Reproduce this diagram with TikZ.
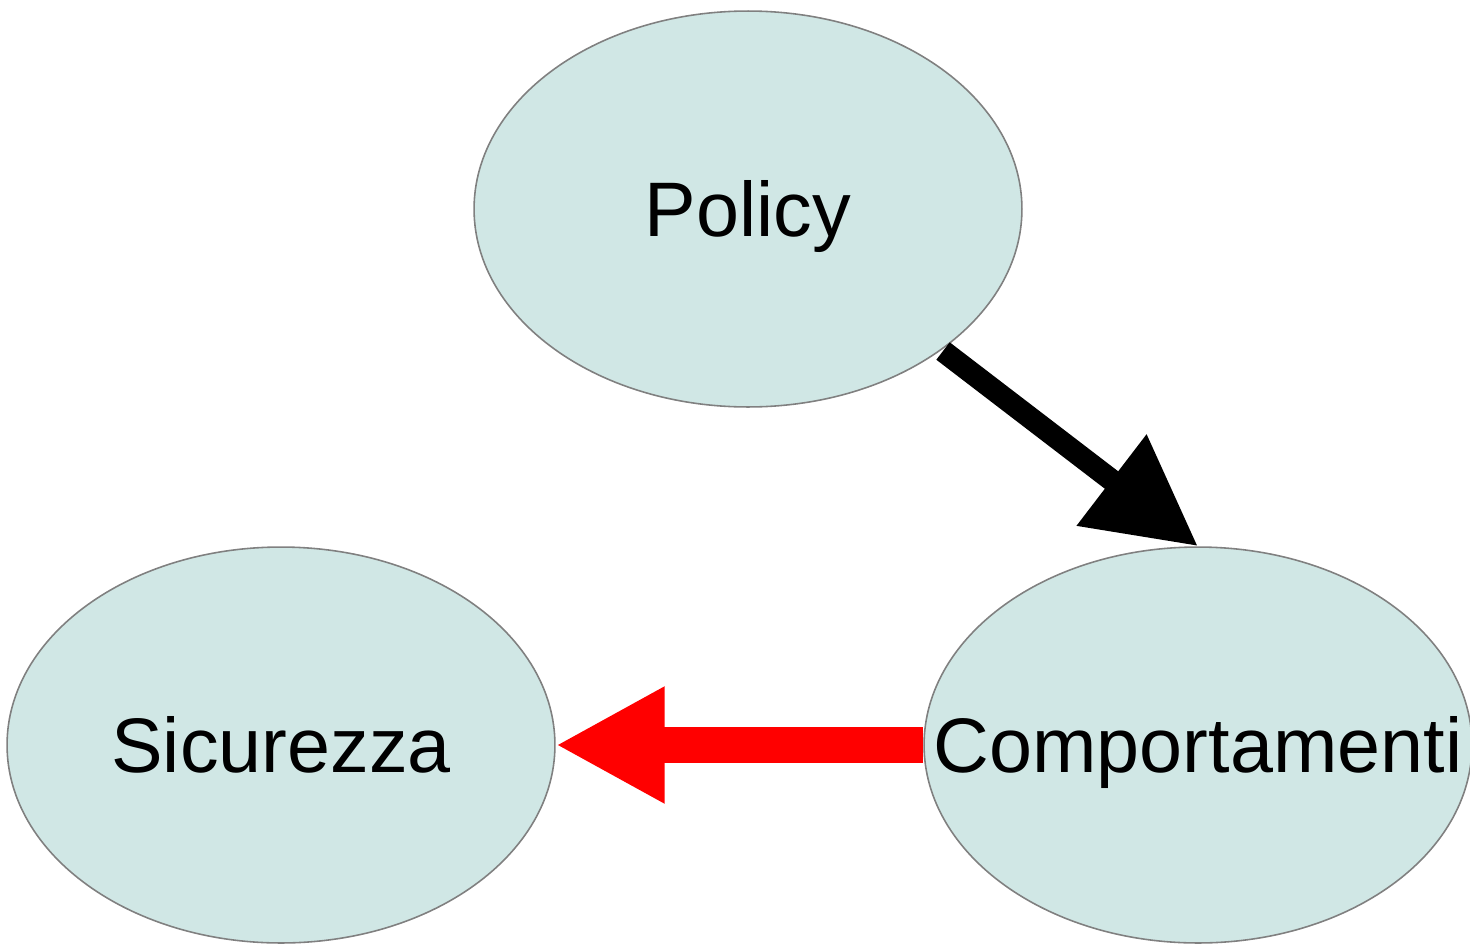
\documentclass[tikz,border=0pt]{standalone}
\usepackage{fontspec}
\setmainfont{Liberation Sans}
\usetikzlibrary{shapes.geometric,arrows.meta}
\definecolor{nodefill}{HTML}{D0E7E5}
\definecolor{nodeline}{HTML}{808080}
\definecolor{redarrow}{HTML}{FF0000}
\tikzset{
  bubble/.style={ellipse, draw=nodeline, fill=nodefill, line width=0.9pt,
    minimum width=10.96cm, minimum height=7.92cm, inner sep=0pt,
    font=\fontsize{44}{50}\selectfont, text height=31.5pt, text depth=0pt},
  bigarrow/.style={-{Triangle[length=62pt,width=62pt]}},
}
\begin{document}
\begin{tikzpicture}[x=0.02cm,y=-0.02cm]
  \useasboundingbox (0,0) rectangle (1470,943);
  \node[bubble] (policy) at (748,209) {\makebox[0pt]{Policy}};
  \node[bubble] (sic) at (281,745) {\makebox[0pt]{Sicurezza}};
  \node[bubble] (comp) at (1198,745) {\makebox[0pt]{Comportamenti}};
  \coordinate (pstart) at (943,351);
  \draw[bigarrow, line width=12.5pt] (pstart) -- (comp.north);
  \draw[bigarrow, line width=20.4pt, draw=redarrow, fill=redarrow] (comp.west) -- (sic.east);
\end{tikzpicture}
\end{document}
